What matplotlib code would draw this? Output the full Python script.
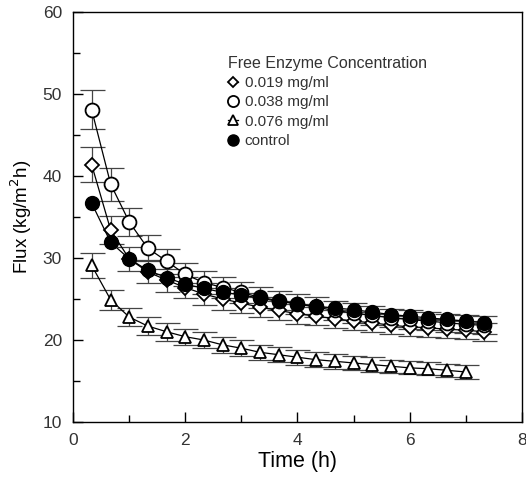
import matplotlib
matplotlib.use("Agg")
import matplotlib.pyplot as plt
from matplotlib.ticker import MultipleLocator

plt.rcParams['font.family'] = ['Liberation Sans', 'DejaVu Sans']

# sampling times (h)
time = [0.33, 0.67, 1.0, 1.33, 1.67, 2.0, 2.33, 2.67, 3.0, 3.33, 3.67,
        4.0, 4.33, 4.67, 5.0, 5.33, 5.67, 6.0, 6.33, 6.67, 7.0, 7.33]

flux_019 = [41.4, 33.4, 29.9, 28.3, 27.3, 26.4, 25.6, 25.0, 24.5, 24.0, 23.6,
            23.2, 22.9, 22.6, 22.3, 22.1, 21.8, 21.6, 21.5, 21.3, 21.2, 21.0]
err_019 = [2.1, 1.7, 1.5, 1.4, 1.4, 1.3, 1.3, 1.3, 1.2, 1.2, 1.2,
           1.2, 1.1, 1.1, 1.1, 1.1, 1.1, 1.1, 1.1, 1.1, 1.1, 1.1]

flux_038 = [48.1, 39.0, 34.4, 31.2, 29.6, 28.0, 27.0, 26.4, 25.8, 25.2, 24.8,
            24.4, 24.0, 23.6, 23.3, 23.0, 22.7, 22.5, 22.3, 22.1, 21.9, 21.8]
err_038 = [2.4, 2.0, 1.7, 1.6, 1.5, 1.4, 1.4, 1.3, 1.3, 1.3, 1.2,
           1.2, 1.2, 1.2, 1.2, 1.2, 1.1, 1.1, 1.1, 1.1, 1.1, 1.1]

time_076 = time[:21]
flux_076 = [29.1, 24.9, 22.8, 21.7, 21.0, 20.4, 20.0, 19.4, 19.0, 18.5, 18.2,
            17.9, 17.6, 17.4, 17.2, 17.0, 16.8, 16.6, 16.5, 16.3, 16.1]
err_076 = [1.5, 1.2, 1.1, 1.1, 1.1, 1.0, 1.0, 1.0, 1.0, 0.9, 0.9,
           0.9, 0.9, 0.9, 0.9, 0.9, 0.8, 0.8, 0.8, 0.8, 0.8]

flux_ctrl = [36.7, 31.9, 29.9, 28.5, 27.6, 26.8, 26.3, 25.8, 25.5, 25.1, 24.7,
             24.4, 24.1, 23.9, 23.7, 23.4, 23.1, 22.9, 22.7, 22.5, 22.3, 22.1]

legend_labels = ['0.019 mg/ml', '0.038 mg/ml', '0.076 mg/ml', 'control']

fig = plt.figure(figsize=(5.26, 4.79), dpi=100)
ax = fig.add_axes([0.139, 0.119, 0.853, 0.856])

eb_kw = dict(ecolor='#444444', elinewidth=0.9, capsize=9, capthick=0.9)
line_kw = dict(color='black', lw=0.9)

ax.errorbar(time, flux_019, yerr=err_019, fmt='none', **eb_kw)
ax.errorbar(time, flux_038, yerr=err_038, fmt='none', **eb_kw)
ax.errorbar(time_076, flux_076, yerr=err_076, fmt='none', **eb_kw)

h1, = ax.plot(time, flux_019, marker='D', ms=7, mfc='white', mec='black',
              mew=1.3, label=legend_labels[0], **line_kw)
h2, = ax.plot(time, flux_038, marker='o', ms=10, mfc='white', mec='black',
              mew=1.3, label=legend_labels[1], **line_kw)
h3, = ax.plot(time_076, flux_076, marker='^', ms=9, mfc='white', mec='black',
              mew=1.3, label=legend_labels[2], **line_kw)
h4, = ax.plot(time, flux_ctrl, marker='o', ms=10, mfc='black', mec='black',
              label=legend_labels[3], **line_kw)

ax.set_xlim(0, 8)
ax.set_ylim(10, 60)
ax.xaxis.set_major_locator(MultipleLocator(2))
ax.xaxis.set_minor_locator(MultipleLocator(1))
ax.yaxis.set_major_locator(MultipleLocator(10))
ax.yaxis.set_minor_locator(MultipleLocator(5))
ax.tick_params(which='both', direction='in', top=False, right=False,
               labelsize=12.5, labelcolor='#333333', width=1)
ax.tick_params(which='major', length=7, pad=8)
ax.tick_params(which='minor', length=5)
for s in ax.spines.values():
    s.set_linewidth(1)

ax.set_xlabel('Time (h)', fontsize=15.5, labelpad=2)
ax.set_ylabel('Flux (kg/m$^2$h)', fontsize=13.5, labelpad=6)

leg = ax.legend(handles=[h1, h2, h3, h4], title='Free Enzyme Concentration',
                loc='upper left', bbox_to_anchor=(0.314, 0.927), frameon=False,
                handlelength=0.7, handletextpad=0.4, labelspacing=0.35,
                fontsize=11, title_fontsize=11.5, markerscale=0.8)
leg._legend_box.align = 'left'
for t in leg.get_texts():
    t.set_color('#333333')
leg.get_title().set_color('#333333')

fig.savefig('out.png', dpi=100)
